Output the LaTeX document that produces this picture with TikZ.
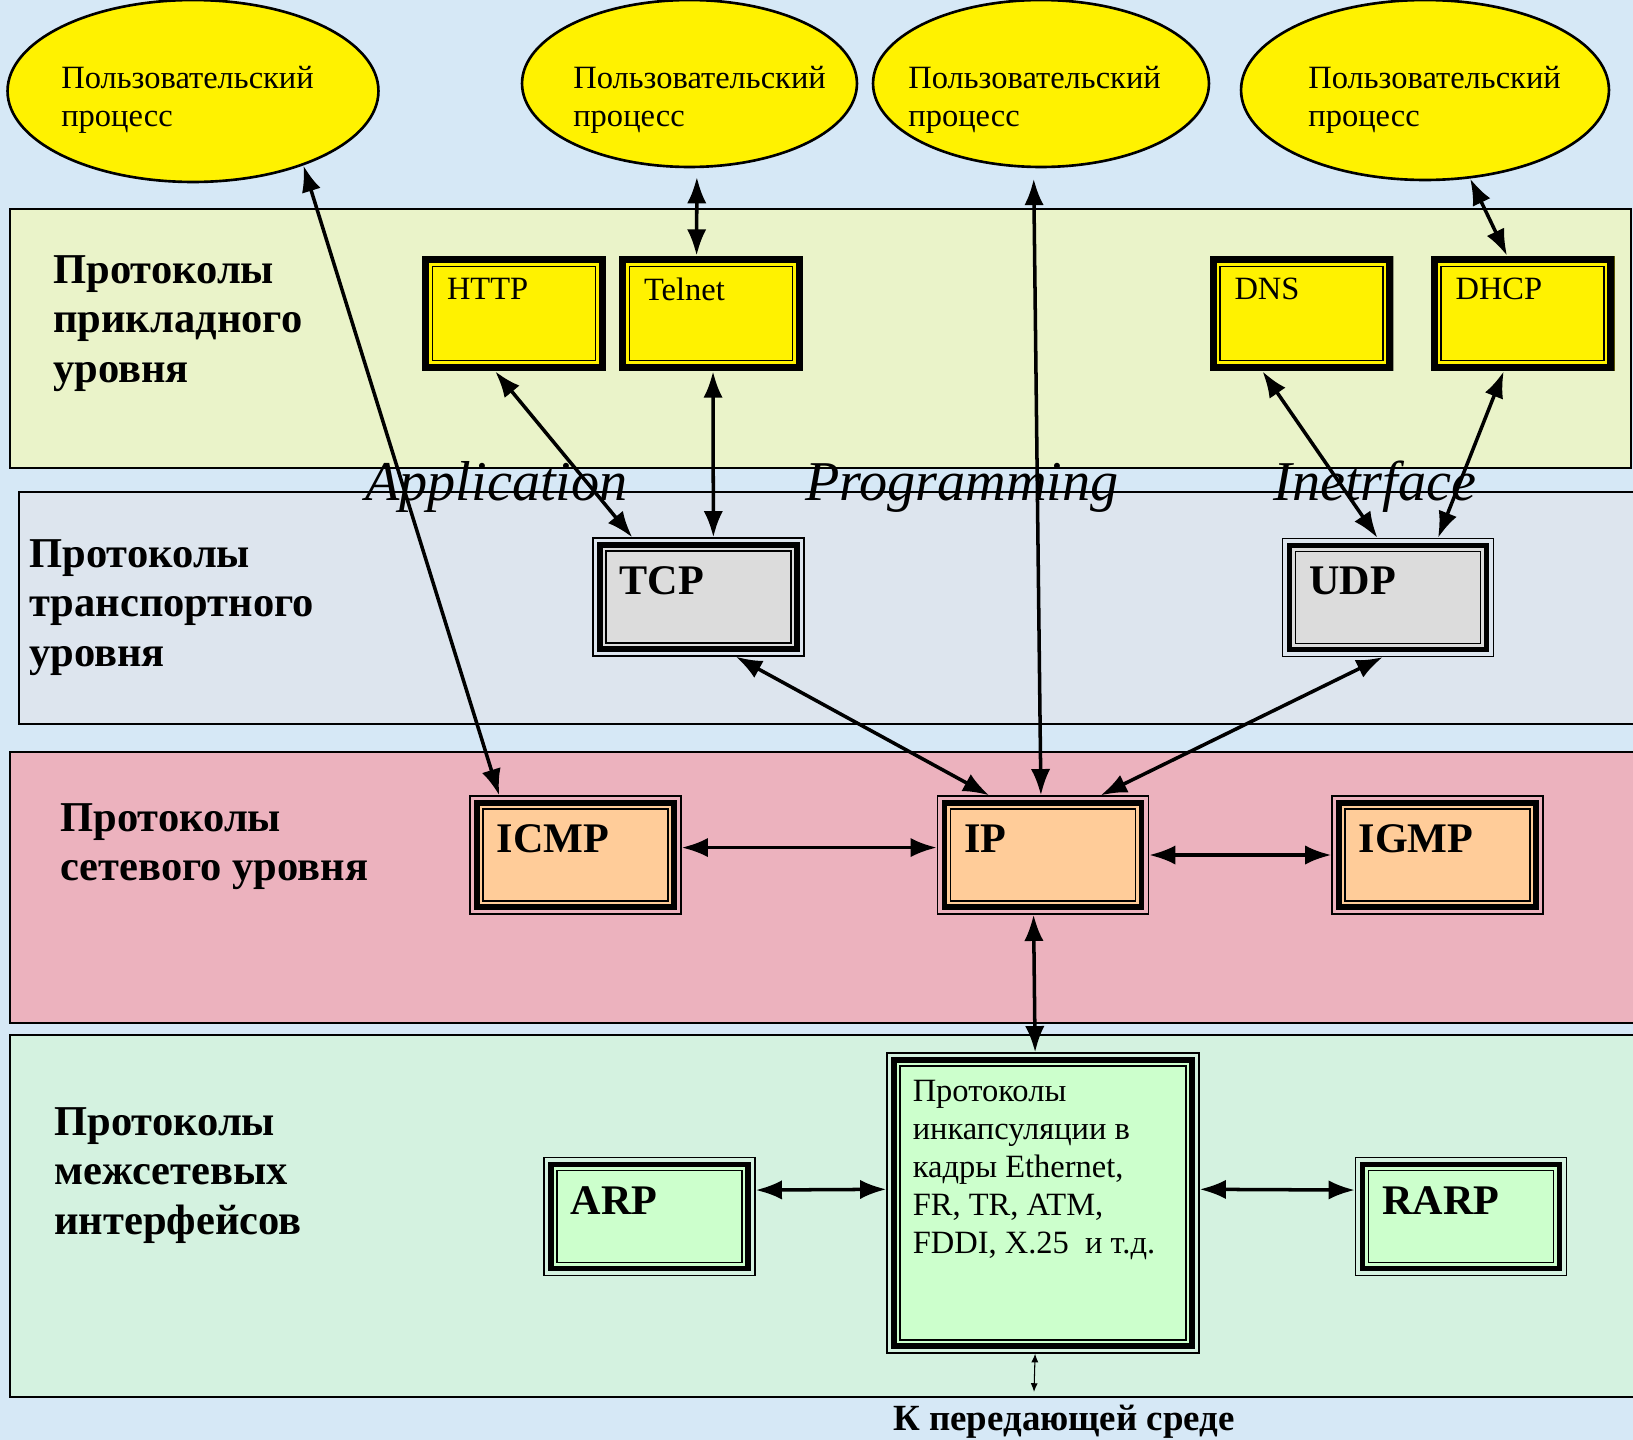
\documentclass[tikz,border=0pt]{standalone}
\usepackage{fontspec}
\setmainfont{Liberation Serif}
\usetikzlibrary{shapes.geometric,arrows.meta}
\definecolor{bgblue}{RGB}{214,232,246}
\definecolor{appband}{RGB}{234,243,201}
\definecolor{trband}{RGB}{221,229,238}
\definecolor{netband}{RGB}{236,178,190}
\definecolor{linkband}{RGB}{212,242,224}
\definecolor{tcpgray}{RGB}{220,220,220}
\definecolor{ipbeige}{RGB}{255,204,153}
\definecolor{arpgreen}{RGB}{204,255,204}
\tikzstyle{userproc}=[ellipse, draw, line width=1.5pt, fill=yellow, inner sep=0pt]
\tikzstyle{proctext}=[anchor=north west, inner sep=0pt, align=left,
font=\fontsize{18.5}{21.5}\selectfont]
\tikzstyle{layername}=[anchor=north west, inner sep=0pt, align=left,
font=\fontsize{24.2}{28.2}\selectfont\bfseries]
\tikzstyle{apitext}=[anchor=base west, inner sep=0pt, font=\fontsize{32}{36}\selectfont\itshape]
\tikzstyle{apptext}=[anchor=north west, inner sep=0pt, shift={(25,22)},
font=\fontsize{18.5}{21.5}\selectfont]
\tikzstyle{prototext}=[anchor=north west, inner sep=0pt, shift={(27,29)},
font=\fontsize{24}{28}\selectfont\bfseries]
\tikzstyle{encapstext}=[anchor=north west, inner sep=0pt, shift={(26,27)}, align=left,
font=\fontsize{18.5}{21.7}\selectfont]
\tikzstyle{appbox}=[rectangle, fill=yellow, minimum width=3.68cm, minimum height=2.3cm,
path picture={
\draw[line width=4pt] ([shift={(3.5,3.5)}]path picture bounding box.north west)
rectangle ([shift={(-3.5,-3.5)}]path picture bounding box.south east);
\draw[line width=0.7pt] ([shift={(10.5,10.5)}]path picture bounding box.north west)
rectangle ([shift={(-10.5,-10.5)}]path picture bounding box.south east);}]
\tikzset{protobox/.style={rectangle, draw, line width=0.7pt, minimum width=4.22cm,
minimum height=2.36cm,
path picture={
\filldraw[fill=#1, line width=3.1pt] ([shift={(7,7)}]path picture bounding box.north west)
rectangle ([shift={(-7,-7)}]path picture bounding box.south east);
\draw[line width=0.85pt] ([shift={(13,13)}]path picture bounding box.north west)
rectangle ([shift={(-13,-13)}]path picture bounding box.south east);}}}
\tikzstyle{dblarrow}=[{Latex[length=15pt,width=11pt]}-{Latex[length=15pt,width=11pt]},
line width=2pt]
\tikzstyle{thinarrow}=[{Latex[length=5pt,width=4pt]}-{Latex[length=5pt,width=4pt]},
line width=0.6pt]

\begin{document}
\begin{tikzpicture}[x=0.02cm, y=-0.02cm]
\clip (0,0) rectangle (1633,1440);
\fill[bgblue] (0,0) rectangle (1633,1440);
% layers
\draw[fill=appband, line width=0.8pt] (10,209) rectangle (1631,468);
\draw[fill=trband, line width=0.8pt] (19,492) rectangle (1650,724);
\draw[fill=netband, line width=0.8pt] (10,752) rectangle (1650,1023);
\draw[fill=linkband, line width=0.8pt] (10,1035) rectangle (1650,1397);

\node[layername](appname) at (53,255) {Протоколы\\прикладного\\уровня};
\node[layername](trname) at (29,539) {Протоколы\\транспортного\\уровня};
\node[layername](netname) at (60,803) {Протоколы\\сетевого уровня};
\node[layername](linkname) at (54,1107) {Протоколы\\межсетевых\\интерфейсов};

\node[apitext](apiapp) at (365,500) {Application};
\node[apitext](apiprog) at (805,500) {Programming};
\node[apitext](apiintf) at (1273,500) {Inetrface};

% user processes
\node[userproc, minimum width=7.42cm, minimum height=3.64cm](e1) at (193,91) {};
\node[userproc, minimum width=6.7cm, minimum height=3.34cm](e2) at (689.5,83.5) {};
\node[userproc, minimum width=6.72cm, minimum height=3.34cm](e3) at (1041,83.5) {};
\node[userproc, minimum width=7.36cm, minimum height=3.6cm](e4) at (1425,90) {};
\node[proctext](proc1) at (61,66) {Пользовательский\\процесс};
\node[proctext](proc2) at (573,66) {Пользовательский\\процесс};
\node[proctext](proc3) at (908,66) {Пользовательский\\процесс};
\node[proctext](proc4) at (1308,66) {Пользовательский\\процесс};

% protocols
\node[appbox, label={[apptext]north west:HTTP}](http) at (514,313.5) {};
\node[appbox, label={[apptext]north west:Telnet}](telnet) at (711,313.5) {};
\node[appbox, label={[apptext]north west:DNS}](dns) at (1301.5,313.5) {};
\node[appbox, label={[apptext]north west:DHCP}](dhcp) at (1522.5,313.5) {};
\node[protobox=tcpgray, label={[prototext]north west:TCP}](tcp) at (698.5,597) {};
\node[protobox=tcpgray, label={[prototext]north west:UDP}](udp) at (1388,597.5) {};
\node[protobox=ipbeige, label={[prototext]north west:ICMP}](icmp) at (575.5,855) {};
\node[protobox=ipbeige, label={[prototext]north west:IP}](ip) at (1043,855) {};
\node[protobox=ipbeige, label={[prototext]north west:IGMP}](igmp) at (1437.5,855) {};
\node[protobox=arpgreen, label={[prototext]north west:ARP}](arp) at (649.5,1216.5) {};
\node[protobox=arpgreen, label={[prototext]north west:RARP}](rarp) at (1461,1216.5) {};
\node[protobox=arpgreen, minimum width=6.24cm, minimum height=6cm,
label={[encapstext]north west:Протоколы\\инкапсуляции в\\кадры Ethernet,\\FR, TR, ATM,\\FDDI, X.25~~и т.д.}](encaps) at (1043,1203) {};

\coordinate (medium) at (1034,1392);
\node[anchor=base west, inner sep=0pt, font=\fontsize{21}{24}\selectfont\bfseries](mediumname)
at (893,1430) {К передающей среде};

% connections
\draw[dblarrow] (e1.-34) -- (icmp.142);
\draw[dblarrow, shorten <=5pt] (e2.-85) -- (telnet.104);
\draw[dblarrow, shorten <=6pt] (e3.-95) -- (ip.92);
\draw[dblarrow] (e4.-63) -- (dhcp.105);
\draw[dblarrow] (http.-108) -- (tcp.138);
\draw[dblarrow] (telnet.-88) -- (tcp.76);
\draw[dblarrow] (dns.-124) -- (udp.100);
\draw[dblarrow] (dhcp.-108) -- (udp.50);
\draw[dblarrow] (tcp.-58) -- (ip.132);
\draw[dblarrow] (udp.-95) -- (ip.46);
\draw[dblarrow] (icmp.4) -- (ip.176);
\draw[dblarrow] (ip.0) -- (igmp.180);
\draw[dblarrow] (ip.-99) -- (encaps.93);
\draw[dblarrow] (arp.14) -- (encaps.175);
\draw[dblarrow] (encaps.5) -- (rarp.166);
\draw[thinarrow] (encaps.-93) -- (medium);
\end{tikzpicture}
\end{document}
